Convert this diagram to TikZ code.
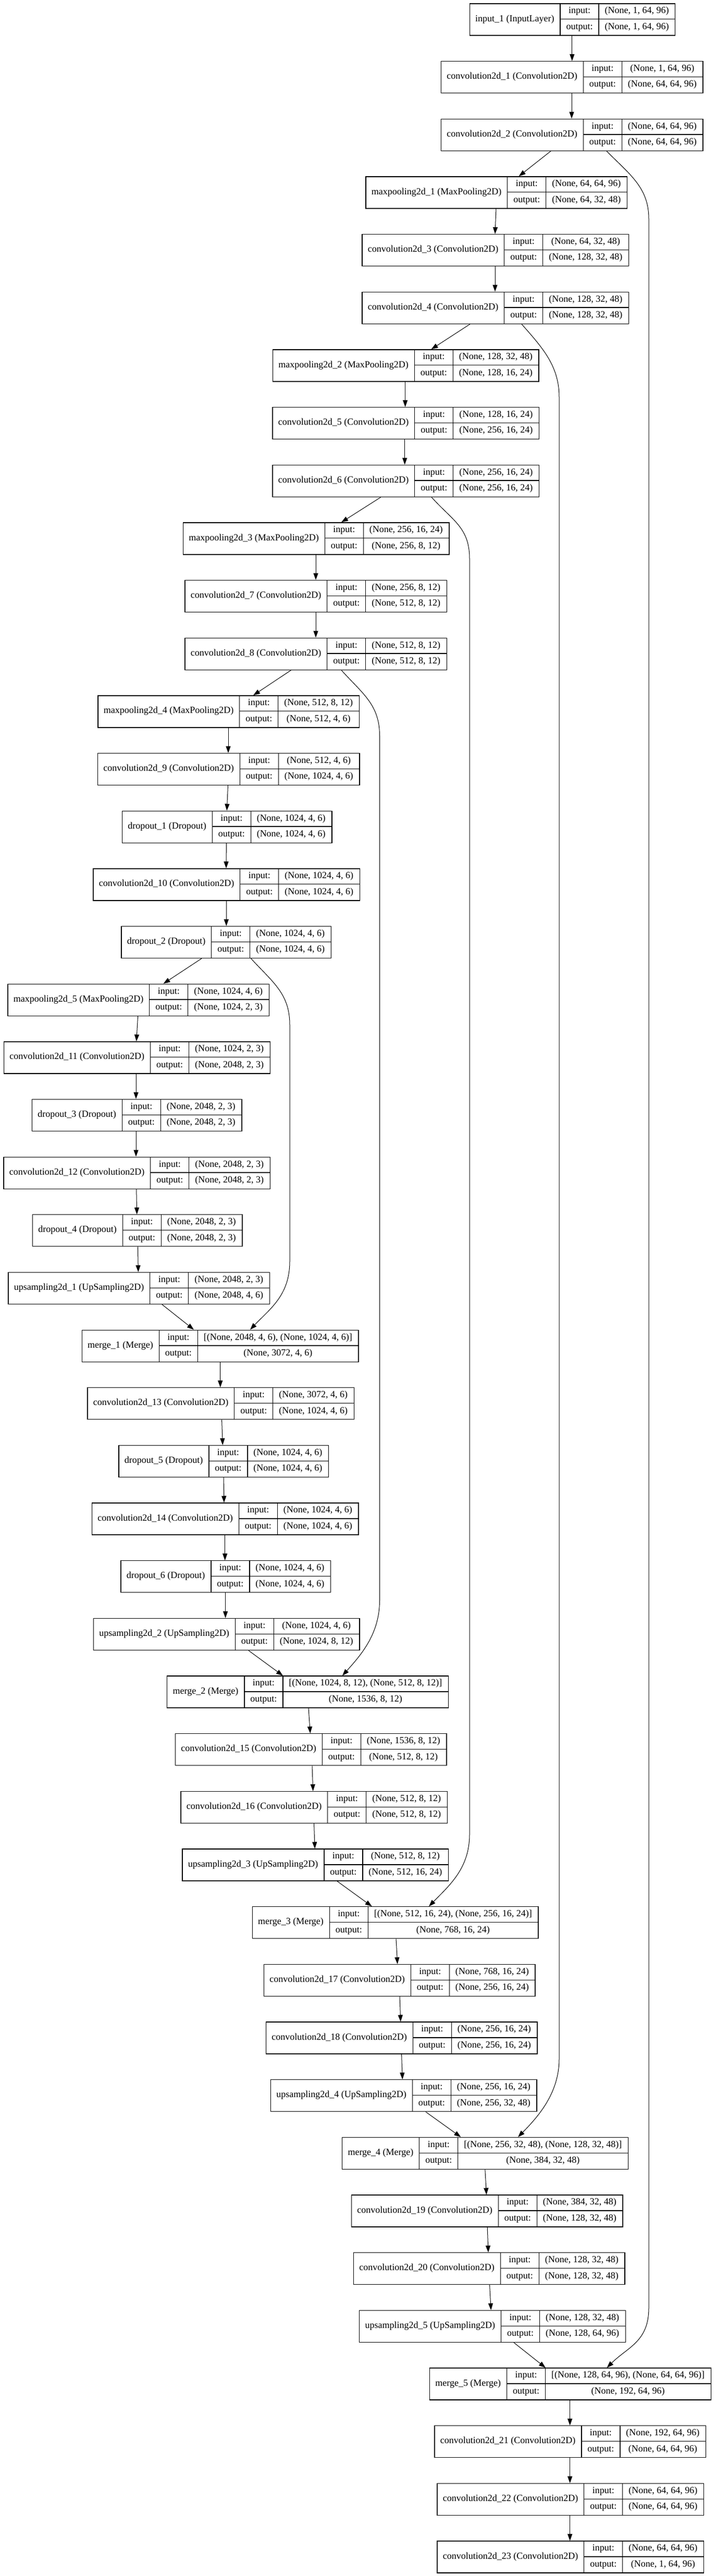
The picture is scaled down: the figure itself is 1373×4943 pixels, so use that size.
\documentclass[tikz,border=0pt]{standalone}
\usepackage{fontspec}
\setmainfont{Liberation Serif}
\usetikzlibrary{arrows.meta,calc}
\newlength\recwA \newlength\recwB \newlength\recwC \newlength\recwD
\newcommand\rf{\fontsize{18}{20}\selectfont}
% pass 1 (outside the picture): measure the three cell widths of every record
\newcommand\measurerec[6]{%
  \settowidth\recwA{\rf #4}%
  \settowidth\recwB{\rf output:}%
  \settowidth\recwC{\rf #5}\settowidth\recwD{\rf #6}%
  \ifdim\recwD>\recwC \recwC=\recwD\fi
  \expandafter\xdef\csname rcwA#1\endcsname{\the\recwA}%
  \expandafter\xdef\csname rcwB#1\endcsname{\the\recwB}%
  \expandafter\xdef\csname rcwC#1\endcsname{\the\recwC}%
}
% pass 2 (inside the picture): #1 name, #2 centre x, #3 row index, #4 label, #5 input, #6 output
\newcommand\drawrec[6]{%
  \pgfmathsetmacro\rcA{\csname rcwA#1\endcsname+23}%
  \pgfmathsetmacro\rcB{\csname rcwB#1\endcsname+23}%
  \pgfmathsetmacro\rcC{\csname rcwC#1\endcsname+23}%
  \pgfmathsetmacro\rcT{\rcA+\rcB+\rcC}%
  \pgfmathsetmacro\rcL{#2-\rcT/2}%
  \pgfmathsetmacro\rcX{\rcL+\rcA}%
  \pgfmathsetmacro\rcXb{\rcX+\rcB}%
  \pgfmathsetmacro\rcR{\rcL+\rcT}%
  \pgfmathsetmacro\rcY{-(6.3+#3*110.66)}%
  \node[recbox,minimum width=\rcT pt,anchor=north west] (#1) at (\rcL,\rcY) {};
  \draw[recline] (\rcX,\rcY) -- ({\rcX},{\rcY-61});
  \draw[recline] (\rcXb,\rcY) -- ({\rcXb},{\rcY-61});
  \draw[recline] ({\rcX},{\rcY-30.5}) -- ({\rcR},{\rcY-30.5});
  \node[rt] (#1l) at ({\rcL+\rcA/2},{\rcY-30.5}) {#4};
  \node[rt] (#1i) at ({\rcX+\rcB/2},{\rcY-15.25}) {input:};
  \node[rt] (#1o) at ({\rcX+\rcB/2},{\rcY-45.75}) {output:};
  \node[rt] (#1si) at ({\rcXb+\rcC/2},{\rcY-15.25}) {#5};
  \node[rt] (#1so) at ({\rcXb+\rcC/2},{\rcY-45.75}) {#6};
}
\newcommand\allrecs{%
\rec{n0}{1097.8}{0}{input\_1 (InputLayer)}{(None, 1, 64, 96)}{(None, 1, 64, 96)}%
\rec{n1}{1097}{1}{convolution2d\_1 (Convolution2D)}{(None, 1, 64, 96)}{(None, 64, 64, 96)}%
\rec{n2}{1097}{2}{convolution2d\_2 (Convolution2D)}{(None, 64, 64, 96)}{(None, 64, 64, 96)}%
\rec{n3}{952}{3}{maxpooling2d\_1 (MaxPooling2D)}{(None, 64, 64, 96)}{(None, 64, 32, 48)}%
\rec{n4}{950}{4}{convolution2d\_3 (Convolution2D)}{(None, 64, 32, 48)}{(None, 128, 32, 48)}%
\rec{n5}{950}{5}{convolution2d\_4 (Convolution2D)}{(None, 128, 32, 48)}{(None, 128, 32, 48)}%
\rec{n6}{778}{6}{maxpooling2d\_2 (MaxPooling2D)}{(None, 128, 32, 48)}{(None, 128, 16, 24)}%
\rec{n7}{778}{7}{convolution2d\_5 (Convolution2D)}{(None, 128, 16, 24)}{(None, 256, 16, 24)}%
\rec{n8}{778}{8}{convolution2d\_6 (Convolution2D)}{(None, 256, 16, 24)}{(None, 256, 16, 24)}%
\rec{n9}{606}{9}{maxpooling2d\_3 (MaxPooling2D)}{(None, 256, 16, 24)}{(None, 256, 8, 12)}%
\rec{n10}{605.5}{10}{convolution2d\_7 (Convolution2D)}{(None, 256, 8, 12)}{(None, 512, 8, 12)}%
\rec{n11}{605.5}{11}{convolution2d\_8 (Convolution2D)}{(None, 512, 8, 12)}{(None, 512, 8, 12)}%
\rec{n12}{438}{12}{maxpooling2d\_4 (MaxPooling2D)}{(None, 512, 8, 12)}{(None, 512, 4, 6)}%
\rec{n13}{438}{13}{convolution2d\_9 (Convolution2D)}{(None, 512, 4, 6)}{(None, 1024, 4, 6)}%
\rec{n14}{435}{14}{dropout\_1 (Dropout)}{(None, 1024, 4, 6)}{(None, 1024, 4, 6)}%
\rec{n15}{434}{15}{convolution2d\_10 (Convolution2D)}{(None, 1024, 4, 6)}{(None, 1024, 4, 6)}%
\rec{n16}{433.5}{16}{dropout\_2 (Dropout)}{(None, 1024, 4, 6)}{(None, 1024, 4, 6)}%
\rec{n17}{265}{17}{maxpooling2d\_5 (MaxPooling2D)}{(None, 1024, 4, 6)}{(None, 1024, 2, 3)}%
\rec{n18}{262.3}{18}{convolution2d\_11 (Convolution2D)}{(None, 1024, 2, 3)}{(None, 2048, 2, 3)}%
\rec{n19}{262}{19}{dropout\_3 (Dropout)}{(None, 2048, 2, 3)}{(None, 2048, 2, 3)}%
\rec{n20}{262}{20}{convolution2d\_12 (Convolution2D)}{(None, 2048, 2, 3)}{(None, 2048, 2, 3)}%
\rec{n21}{263}{21}{dropout\_4 (Dropout)}{(None, 2048, 2, 3)}{(None, 2048, 2, 3)}%
\rec{n22}{266}{22}{upsampling2d\_1 (UpSampling2D)}{(None, 2048, 2, 3)}{(None, 2048, 4, 6)}%
\rec{n23}{422}{23}{merge\_1 (Merge)}{[(None, 2048, 4, 6), (None, 1024, 4, 6)]}{(None, 3072, 4, 6)}%
\rec{n24}{423}{24}{convolution2d\_13 (Convolution2D)}{(None, 3072, 4, 6)}{(None, 1024, 4, 6)}%
\rec{n25}{428.6}{25}{dropout\_5 (Dropout)}{(None, 1024, 4, 6)}{(None, 1024, 4, 6)}%
\rec{n26}{431.7}{26}{convolution2d\_14 (Convolution2D)}{(None, 1024, 4, 6)}{(None, 1024, 4, 6)}%
\rec{n27}{432.6}{27}{dropout\_6 (Dropout)}{(None, 1024, 4, 6)}{(None, 1024, 4, 6)}%
\rec{n28}{434}{28}{upsampling2d\_2 (UpSampling2D)}{(None, 1024, 4, 6)}{(None, 1024, 8, 12)}%
\rec{n29}{590}{29}{merge\_2 (Merge)}{[(None, 1024, 8, 12), (None, 512, 8, 12)]}{(None, 1536, 8, 12)}%
\rec{n30}{596}{30}{convolution2d\_15 (Convolution2D)}{(None, 1536, 8, 12)}{(None, 512, 8, 12)}%
\rec{n31}{602}{31}{convolution2d\_16 (Convolution2D)}{(None, 512, 8, 12)}{(None, 512, 8, 12)}%
\rec{n32}{604.6}{32}{upsampling2d\_3 (UpSampling2D)}{(None, 512, 8, 12)}{(None, 512, 16, 24)}%
\rec{n33}{758}{33}{merge\_3 (Merge)}{[(None, 512, 16, 24), (None, 256, 16, 24)]}{(None, 768, 16, 24)}%
\rec{n34}{766}{34}{convolution2d\_17 (Convolution2D)}{(None, 768, 16, 24)}{(None, 256, 16, 24)}%
\rec{n35}{770}{35}{convolution2d\_18 (Convolution2D)}{(None, 256, 16, 24)}{(None, 256, 16, 24)}%
\rec{n36}{774}{36}{upsampling2d\_4 (UpSampling2D)}{(None, 256, 16, 24)}{(None, 256, 32, 48)}%
\rec{n37}{930.4}{37}{merge\_4 (Merge)}{[(None, 256, 32, 48), (None, 128, 32, 48)]}{(None, 384, 32, 48)}%
\rec{n38}{934}{38}{convolution2d\_19 (Convolution2D)}{(None, 384, 32, 48)}{(None, 128, 32, 48)}%
\rec{n39}{938}{39}{convolution2d\_20 (Convolution2D)}{(None, 128, 32, 48)}{(None, 128, 32, 48)}%
\rec{n40}{944.4}{40}{upsampling2d\_5 (UpSampling2D)}{(None, 128, 32, 48)}{(None, 128, 64, 96)}%
\rec{n41}{1093.7}{41}{merge\_5 (Merge)}{[(None, 128, 64, 96), (None, 64, 64, 96)]}{(None, 192, 64, 96)}%
\rec{n42}{1093.7}{42}{convolution2d\_21 (Convolution2D)}{(None, 192, 64, 96)}{(None, 64, 64, 96)}%
\rec{n43}{1094}{43}{convolution2d\_22 (Convolution2D)}{(None, 64, 64, 96)}{(None, 64, 64, 96)}%
\rec{n44}{1094}{44}{convolution2d\_23 (Convolution2D)}{(None, 64, 64, 96)}{(None, 1, 64, 96)}%
}
\newcommand\edge[4]{\draw[arr] (#1.south -| #2,0) -- (#3.north -| #4,0);}
% #1 src, #2 start x, #3 column x, #4 tgt, #5 end x, #6 top bend, #7 bottom bend
\newcommand\skipedge[7]{%
  \draw[arr] (#1.south -| #2,0)
    .. controls +({0.55*(#3-#2)},-45) and +(0,60) .. ($(#1.south -| #3,0)+(0,-#6)$)
    -- ($(#4.north -| #3,0)+(0,#7)$)
    .. controls +(0,-65) and +({0.5*(#3-#5)},40) .. (#4.north -| #5,0);}
\begin{document}
\let\rec\measurerec
\allrecs
\begin{tikzpicture}[x=1pt,y=1pt,
  recbox/.style={draw,line width=1.3pt,inner sep=0pt,minimum height=61pt},
  recline/.style={line width=1.3pt},
  rt/.style={inner sep=0pt,font=\rf,text height=12.5pt,text depth=4pt},
  arr/.style={line width=1pt,-{Triangle[length=13pt,width=9pt]}}]
\fill[white] (0,0) rectangle (1373,-4943);
\useasboundingbox (0,0) rectangle (1373,-4943);
\let\rec\drawrec
\allrecs
% main chain
\edge{n0}{1097.8}{n1}{1097.8}
\edge{n1}{1097}{n2}{1097}
\edge{n2}{1057}{n3}{995.6}
\edge{n3}{952}{n4}{950}
\edge{n4}{950}{n5}{950}
\edge{n5}{902}{n6}{827.5}
\edge{n6}{777.6}{n7}{777.6}
\edge{n7}{776.7}{n8}{776.7}
\edge{n8}{731}{n9}{655}
\edge{n9}{606}{n10}{606}
\edge{n10}{606}{n11}{606}
\edge{n11}{558.7}{n12}{486}
\edge{n12}{438}{n13}{438}
\edge{n13}{437.5}{n14}{435.3}
\edge{n14}{434.4}{n15}{434}
\edge{n15}{434.3}{n16}{434.3}
\edge{n16}{387}{n17}{313.5}
\edge{n17}{264.5}{n18}{261.8}
\edge{n18}{261}{n19}{261}
\edge{n19}{261}{n20}{261}
\edge{n20}{261.8}{n21}{262.7}
\edge{n21}{264.4}{n22}{265.3}
\edge{n22}{311}{n23}{372}
\edge{n23}{422.5}{n24}{422.8}
\edge{n24}{425.6}{n25}{427.3}
\edge{n25}{429}{n26}{430}
\edge{n26}{431.7}{n27}{431.7}
\edge{n27}{432.6}{n28}{432.6}
\edge{n28}{477}{n29}{543}
\edge{n29}{592}{n30}{595.4}
\edge{n30}{599}{n31}{600.7}
\edge{n31}{602.5}{n32}{604.2}
\edge{n32}{647}{n33}{713.7}
\edge{n33}{760}{n34}{762.7}
\edge{n34}{767}{n35}{768.8}
\edge{n35}{770.6}{n36}{772.3}
\edge{n36}{817}{n37}{884.4}
\edge{n37}{930.8}{n38}{933.5}
\edge{n38}{935.2}{n39}{937}
\edge{n39}{939.6}{n40}{942.2}
\edge{n40}{986}{n41}{1047}
\edge{n41}{1093.7}{n42}{1093.7}
\edge{n42}{1093.7}{n43}{1093.7}
\edge{n43}{1093.7}{n44}{1093.7}
% skip connections
\skipedge{n2}{1164}{1245}{n41}{1164.6}{130}{115}
\skipedge{n5}{1001}{1073}{n37}{994}{140}{150}
\skipedge{n8}{828}{901}{n33}{823}{118}{138}
\skipedge{n11}{655}{728.5}{n29}{657}{126}{145}
\skipedge{n16}{481.6}{556}{n23}{480}{127}{131}
\end{tikzpicture}
\end{document}
